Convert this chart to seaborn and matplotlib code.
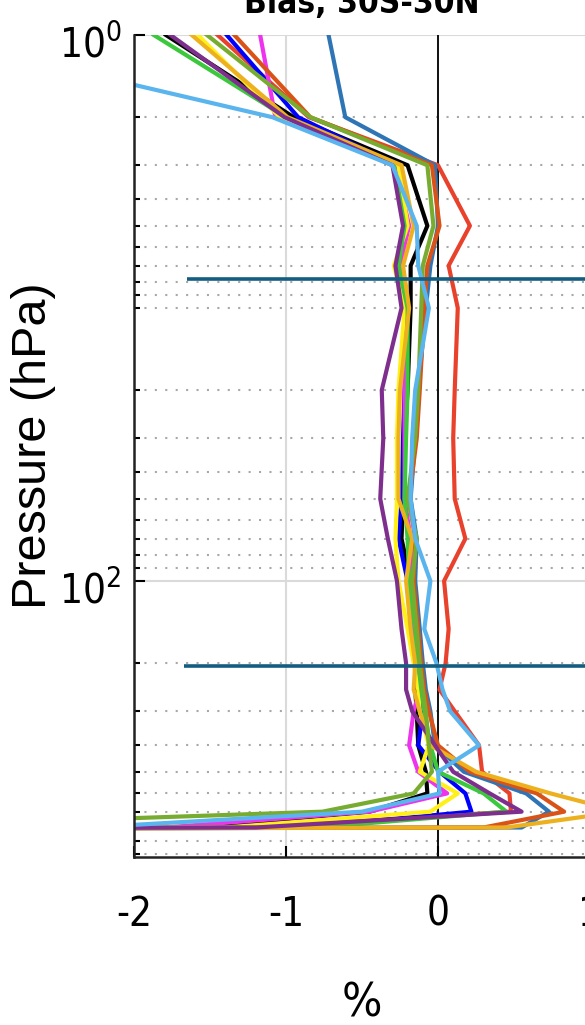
import numpy as np
import pandas as pd
import seaborn as sns
import matplotlib.pyplot as plt
from matplotlib import font_manager
from matplotlib.ticker import FixedLocator, NullFormatter
from matplotlib.transforms import ScaledTranslation

# pressure levels (hPa) of the bias profiles
levels = [1, 2, 3, 5, 7, 10, 20, 30, 50, 70, 100, 150, 200, 250, 300, 400, 500, 600, 700, 800, 850]

# bias (%) per model
black = [-1.79, -0.95, -0.20, -0.07, -0.18, -0.18, -0.20, -0.22, -0.23, -0.24, -0.18, -0.16, -0.13, -0.15, -0.14, -0.13, -0.08, -0.07, -0.45, -1.6, -20]
red = [-1.45, -0.85, 0.00, 0.21, 0.07, 0.13, 0.11, 0.10, 0.11, 0.18, 0.04, 0.07, 0.05, 0.01, 0.11, 0.27, 0.29, 0.47, 0.48, -1.2, -22]
blue = [-1.39, -0.92, -0.27, -0.21, -0.25, -0.21, -0.22, -0.23, -0.24, -0.26, -0.20, -0.17, -0.14, -0.12, -0.10, -0.13, 0.01, 0.18, 0.22, -0.9, -18]
magenta = [-1.17, -1.07, -0.28, -0.19, -0.25, -0.20, -0.22, -0.22, -0.22, -0.18, -0.18, -0.16, -0.14, -0.12, -0.16, -0.19, -0.13, 0.06, -0.45, -1.8, -20]
yellow = [-1.58, -1.04, -0.26, -0.20, -0.29, -0.22, -0.26, -0.27, -0.27, -0.28, -0.26, -0.20, -0.16, -0.13, -0.12, -0.06, -0.12, 0.13, -0.05, -1.4, -21]
green = [-1.87, -1.00, -0.29, -0.22, -0.26, -0.20, -0.20, -0.21, -0.22, -0.20, -0.19, -0.15, -0.13, -0.11, -0.09, -0.05, 0.00, 0.30, 0.45, -0.8, -19]
steelblue = [-0.72, -0.61, -0.02, 0.00, -0.05, -0.08, -0.13, -0.15, -0.18, -0.14, -0.15, -0.12, -0.10, -0.08, -0.05, -0.02, 0.17, 0.58, 0.73, 0.55, -25]
orange = [-1.34, -0.84, -0.04, 0.01, -0.07, -0.09, -0.12, -0.14, -0.19, -0.15, -0.16, -0.13, -0.11, -0.09, -0.06, 0.00, 0.21, 0.65, 0.83, 0.30, -24]
gold = [-1.62, -0.99, -0.24, -0.16, -0.23, -0.19, -0.25, -0.26, -0.26, -0.17, -0.21, -0.18, -0.15, -0.16, -0.12, -0.05, 0.25, 0.74, 1.20, 0.45, -26]
purple = [-1.76, -1.01, -0.30, -0.23, -0.28, -0.24, -0.37, -0.36, -0.38, -0.33, -0.27, -0.24, -0.21, -0.21, -0.17, -0.02, 0.10, 0.34, 0.55, -1.2, -23]
olive = [-1.52, -0.84, -0.07, -0.03, -0.10, -0.11, -0.13, -0.15, -0.20, -0.14, -0.17, -0.14, -0.12, -0.10, -0.08, -0.06, -0.04, -0.16, -0.76, -3.8, -20]
lightblue = [-3.40, -1.09, -0.30, -0.14, -0.13, -0.06, -0.15, -0.17, -0.18, -0.15, -0.05, -0.09, -0.01, 0.03, 0.08, 0.27, 0.00, 0.01, -0.50, -2.3, -22]

models = ['black', 'red', 'blue', 'magenta', 'yellow', 'green', 'steelblue',
          'orange', 'gold', 'purple', 'olive', 'lightblue']
series = [black, red, blue, magenta, yellow, green, steelblue,
          orange, gold, purple, olive, lightblue]
colors = ['#000000', '#E8412C', '#0000FF', '#EE33EE', '#FFF01A', '#3CC83C', '#2F75B5',
          '#D95319', '#EDB120', '#7E2F8E', '#77AC30', '#5AB4EE']

# reference levels drawn as horizontal lines
ref_p = [7.8, 205]
ref_xstart = [-1.65, -1.67]

df = pd.DataFrame({
    'pressure': levels * len(models),
    'bias': [v for s in series for v in s],
    'model': [m for m in models for _ in levels],
})

# narrow tick font if a condensed face is installed
cond = font_manager.findfont(font_manager.FontProperties(family='DejaVu Sans', stretch='condensed'))
if 'ondensed' in cond:
    tick_family, tick_size = ['DejaVu Sans'], 29
    plt.rcParams['font.stretch'] = 'condensed'
else:
    tick_family, tick_size = ['Liberation Sans', 'DejaVu Sans'], 28
plt.rcParams['font.family'] = tick_family

fig = plt.figure(figsize=(5.85, 10.25), dpi=100)
ax = fig.add_axes([134 / 585, 168 / 1025, 456 / 585, 822 / 1025])

sns.lineplot(data=df, x='bias', y='pressure', hue='model', hue_order=models,
             palette=dict(zip(models, colors)), sort=False, estimator=None,
             orient='y', lw=3.0, legend=False, ax=ax)

ax.axvline(0, color='k', lw=1.3, zorder=1.5)
ax.hlines(ref_p, ref_xstart, 1, color='#135E80', lw=2.6, zorder=3)

ax.set_yscale('log')
ax.set_ylim(1026, 1)
ax.set_xlim(-2, 1)

ax.set_yticks([1, 100])
ax.set_yticklabels([r'$\mathregular{10^{0}}$', r'$\mathregular{10^{2}}$'])
minor = [m * 10 ** e for e in range(4) for m in range(1, 10)
         if m * 10 ** e not in (1, 100) and m * 10 ** e <= 1000]
ax.yaxis.set_minor_locator(FixedLocator(minor))
ax.yaxis.set_minor_formatter(NullFormatter())
ax.set_xticks([-2, -1, 0, 1])
ax.set_xticklabels(['-2', '-1', '0', '1'])

ax.set_axisbelow(True)
ax.grid(True, which='major', color='#dadada', lw=1.5)
ax.grid(True, which='minor', axis='y', color='#a8a8a8', ls=(0, (1, 4)), lw=1.5)

ax.tick_params(which='major', direction='in', length=8, width=1.5, labelsize=tick_size, colors='k')
ax.tick_params(axis='x', which='major', pad=27)
ax.tick_params(axis='y', which='major', pad=9)
ax.tick_params(which='minor', direction='in', length=4, width=1.5)

# nudge the y tick labels down a little, as in the original
for lab in ax.get_yticklabels():
    lab.set_transform(lab.get_transform() + ScaledTranslation(0, -6 / 100, fig.dpi_scale_trans))

for side in ['top', 'right']:
    ax.spines[side].set_visible(False)
for side in ['left', 'bottom']:
    ax.spines[side].set_linewidth(1.8)
    ax.spines[side].set_color('#222222')

ax.set_title('Bias, 30S-30N', fontsize=24, fontweight='bold', pad=16)
ax.set_xlabel('%', fontsize=34, labelpad=34)
ax.set_ylabel('Pressure (hPa)', fontsize=35, family=['Liberation Sans', 'DejaVu Sans'],
              fontstretch='normal')
ax.yaxis.set_label_coords(-0.172, 0.5)

fig.savefig('out.png', dpi=100)
